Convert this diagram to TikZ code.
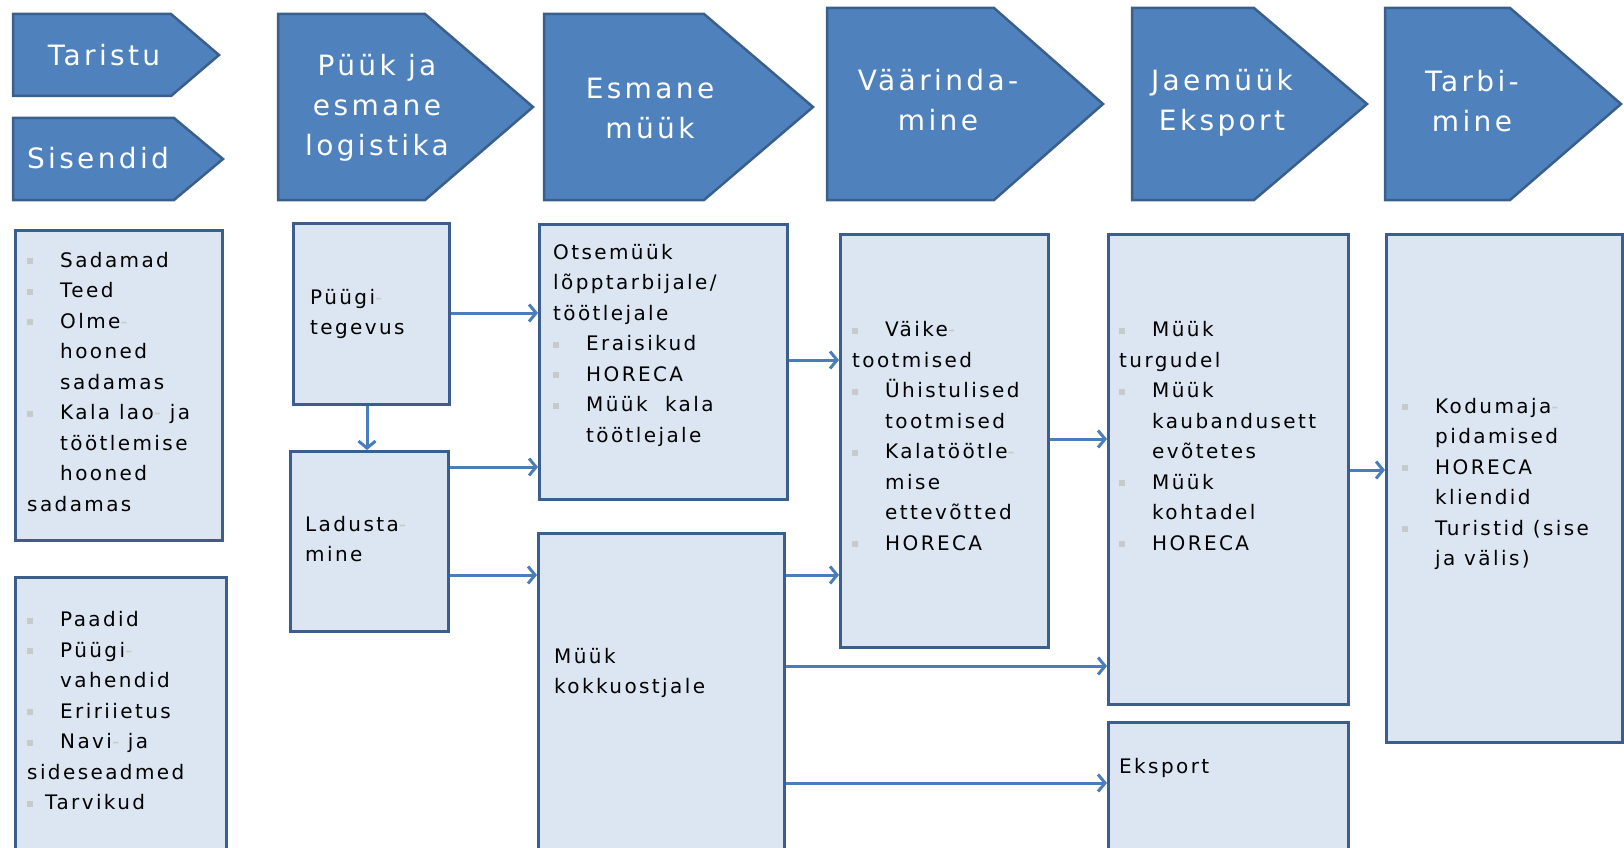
\documentclass[tikz,border=0pt]{standalone}
\usepackage{fontspec}
\setmainfont{DejaVu Sans}
\newfontfamily\chevfont{DejaVu Sans}[LetterSpace=12]
\newfontfamily\boxfont{DejaVu Sans}[LetterSpace=12]
\usepackage{tikz}
\usetikzlibrary{arrows.meta}
\usepackage{xcolor}

\definecolor{chevfill}{HTML}{4F81BD}
\definecolor{chevline}{HTML}{3A5F8B}
\definecolor{boxfill}{HTML}{DCE6F2}
\definecolor{boxline}{HTML}{3B5E8C}
\definecolor{arrowblue}{HTML}{4A7EBB}
\definecolor{bulgray}{HTML}{C6CACB}

\newlength{\bulw}
\setlength{\bulw}{33pt}
\newcommand{\bulsq}{\makebox[\bulw][l]{\textcolor{bulgray}{\rule[3pt]{6pt}{6pt}}}}
\newcommand{\indl}{\hspace*{\bulw}}
\newcommand{\grayhy}{\textcolor{bulgray}{-}}

\begin{document}
\begin{tikzpicture}[x=1pt, y=-1pt, >={Straight Barb[length=7pt,width=17pt]}]
				\tikzstyle{chev} = [fill=chevfill, draw=chevline, line width=2.5pt, line join=miter];
				\tikzstyle{chevtext} = [inner sep=0pt, align=center, text=white, font=\chevfont\fontsize{28}{40}\selectfont];
				\tikzstyle{box} = [rectangle, fill=boxfill, draw=boxline, line width=3pt, anchor=north west, inner sep=0pt];
				\tikzstyle{boxtext} = [anchor=west, inner sep=0pt, align=left, text=black, font=\boxfont\fontsize{20}{30.5}\selectfont];
				\tikzstyle{flow} = [draw=arrowblue, line width=3pt, ->];

				\useasboundingbox (0,0) rectangle (1624,848);
				\clip (0,0) rectangle (1624,848);

				% value chain stages
				\path[chev] (13,14) -- (171,14) -- (219,55) -- (171,96) -- (13,96) -- cycle;
				\node[chevtext] (taristu) at (104,55) {Taristu};
				\path[chev] (13,118) -- (174,118) -- (223,159) -- (174,200) -- (13,200) -- cycle;
				\node[chevtext] (sisendid) at (98,158) {Sisendid};
				\path[chev] (278,14) -- (425,14) -- (533,107) -- (425,200) -- (278,200) -- cycle;
				\node[chevtext] (pyyk) at (377,108) {Püük ja\\esmane\\logistika};
				\path[chev] (544,14) -- (704,14) -- (813,107) -- (704,200) -- (544,200) -- cycle;
				\node[chevtext] (esmane) at (650,108) {Esmane\\müük};
				\path[chev] (827,8) -- (994,8) -- (1103,104) -- (994,200) -- (827,200) -- cycle;
				\node[chevtext] (vaarindamine) at (938,100) {Väärinda-\\mine};
				\path[chev] (1132,8) -- (1254,8) -- (1367,104) -- (1254,200) -- (1132,200) -- cycle;
				\node[chevtext] (jaemyyk) at (1222,103) {Jaemüük\\Eksport};
				\path[chev] (1385,8) -- (1510,8) -- (1621,104) -- (1510,200) -- (1385,200) -- cycle;
				\node[chevtext] (tarbimine) at (1472,101) {Tarbi-\\mine};

				% boxes
				\node[box, minimum width=207pt, minimum height=310pt] (infra) at (14,229) {};
				\node[box, minimum width=211pt, minimum height=300pt] (inputs) at (14,576) {};
				\node[box, minimum width=156pt, minimum height=181pt] (catch) at (292,222) {};
				\node[box, minimum width=158pt, minimum height=180pt] (storage) at (289,450) {};
				\node[box, minimum width=248pt, minimum height=275pt] (direct) at (538,223) {};
				\node[box, minimum width=246pt, minimum height=340pt] (buyers) at (537,532) {};
				\node[box, minimum width=208pt, minimum height=413pt] (process) at (839,233) {};
				\node[box, minimum width=240pt, minimum height=470pt] (market) at (1107,233) {};
				\node[box, minimum width=240pt, minimum height=150pt] (export) at (1107,721) {};
				\node[box, minimum width=236pt, minimum height=508pt] (consume) at (1385,233) {};

				% box texts
				\node[boxtext] (infratext) at (27,382) {\bulsq Sadamad\\\bulsq Teed\\\bulsq Olme\grayhy\\\indl hooned\\\indl sadamas\\\bulsq Kala lao\grayhy{} ja\\\indl töötlemise\\\indl hooned\\sadamas};
				\node[boxtext] (inputstext) at (27,711) {\bulsq Paadid\\\bulsq Püügi\grayhy\\\indl vahendid\\\bulsq Eririietus\\\bulsq Navi\grayhy{} ja\\sideseadmed\\\makebox[18pt][l]{\textcolor{bulgray}{\rule[3pt]{6pt}{6pt}}}Tarvikud};
				\node[boxtext] (catchtext) at (310,314) {Püügi\grayhy\\tegevus};
				\node[boxtext] (storagetext) at (305,539) {Ladusta\grayhy\\mine};
				\node[boxtext] (directtext) at (553,345) {Otsemüük\\lõpptarbijale/\\töötlejale\\\bulsq Eraisikud\\\bulsq HORECA\\\bulsq Müük\ \ kala\\\indl töötlejale};
				\node[boxtext] (buyerstext) at (554,673) {Müük\\kokkuostjale};
				\node[boxtext] (processtext) at (852,436) {\bulsq Väike\grayhy\\tootmised\\\bulsq Ühistulised\\\indl tootmised\\\bulsq Kalatöötle\grayhy\\\indl mise\\\indl ettevõtted\\\bulsq HORECA};
				\node[boxtext] (markettext) at (1119,436) {\bulsq Müük\\turgudel\\\bulsq Müük\\\indl kaubandusett\\\indl evõtetes\\\bulsq Müük\\\indl kohtadel\\\bulsq HORECA};
				\node[boxtext] (exporttext) at (1119,768) {Eksport};
				\node[boxtext] (consumetext) at (1402,484) {\bulsq Kodumaja\grayhy\\\indl pidamised\\\bulsq HORECA\\\indl kliendid\\\bulsq Turistid (sise\\\indl ja välis)};

				% flows
				\path (catch.south -| 367,0) edge[flow] (storage.north -| 367,0)
				(catch.east |- 0,313) edge[flow] (direct.west |- 0,313)
				(storage.east |- 0,467) edge[flow] (direct.west |- 0,467)
				(storage.east |- 0,575) edge[flow] (buyers.west |- 0,575)
				(direct.east |- 0,360) edge[flow] (process.west |- 0,360)
				(buyers.east |- 0,575) edge[flow] (process.west |- 0,575)
				(buyers.east |- 0,666) edge[flow] (market.west |- 0,666)
				(buyers.east |- 0,783) edge[flow] (export.west |- 0,783)
				(process.east |- 0,439) edge[flow] (market.west |- 0,439)
				(market.east |- 0,470) edge[flow] (consume.west |- 0,470);
			\end{tikzpicture}
\end{document}
